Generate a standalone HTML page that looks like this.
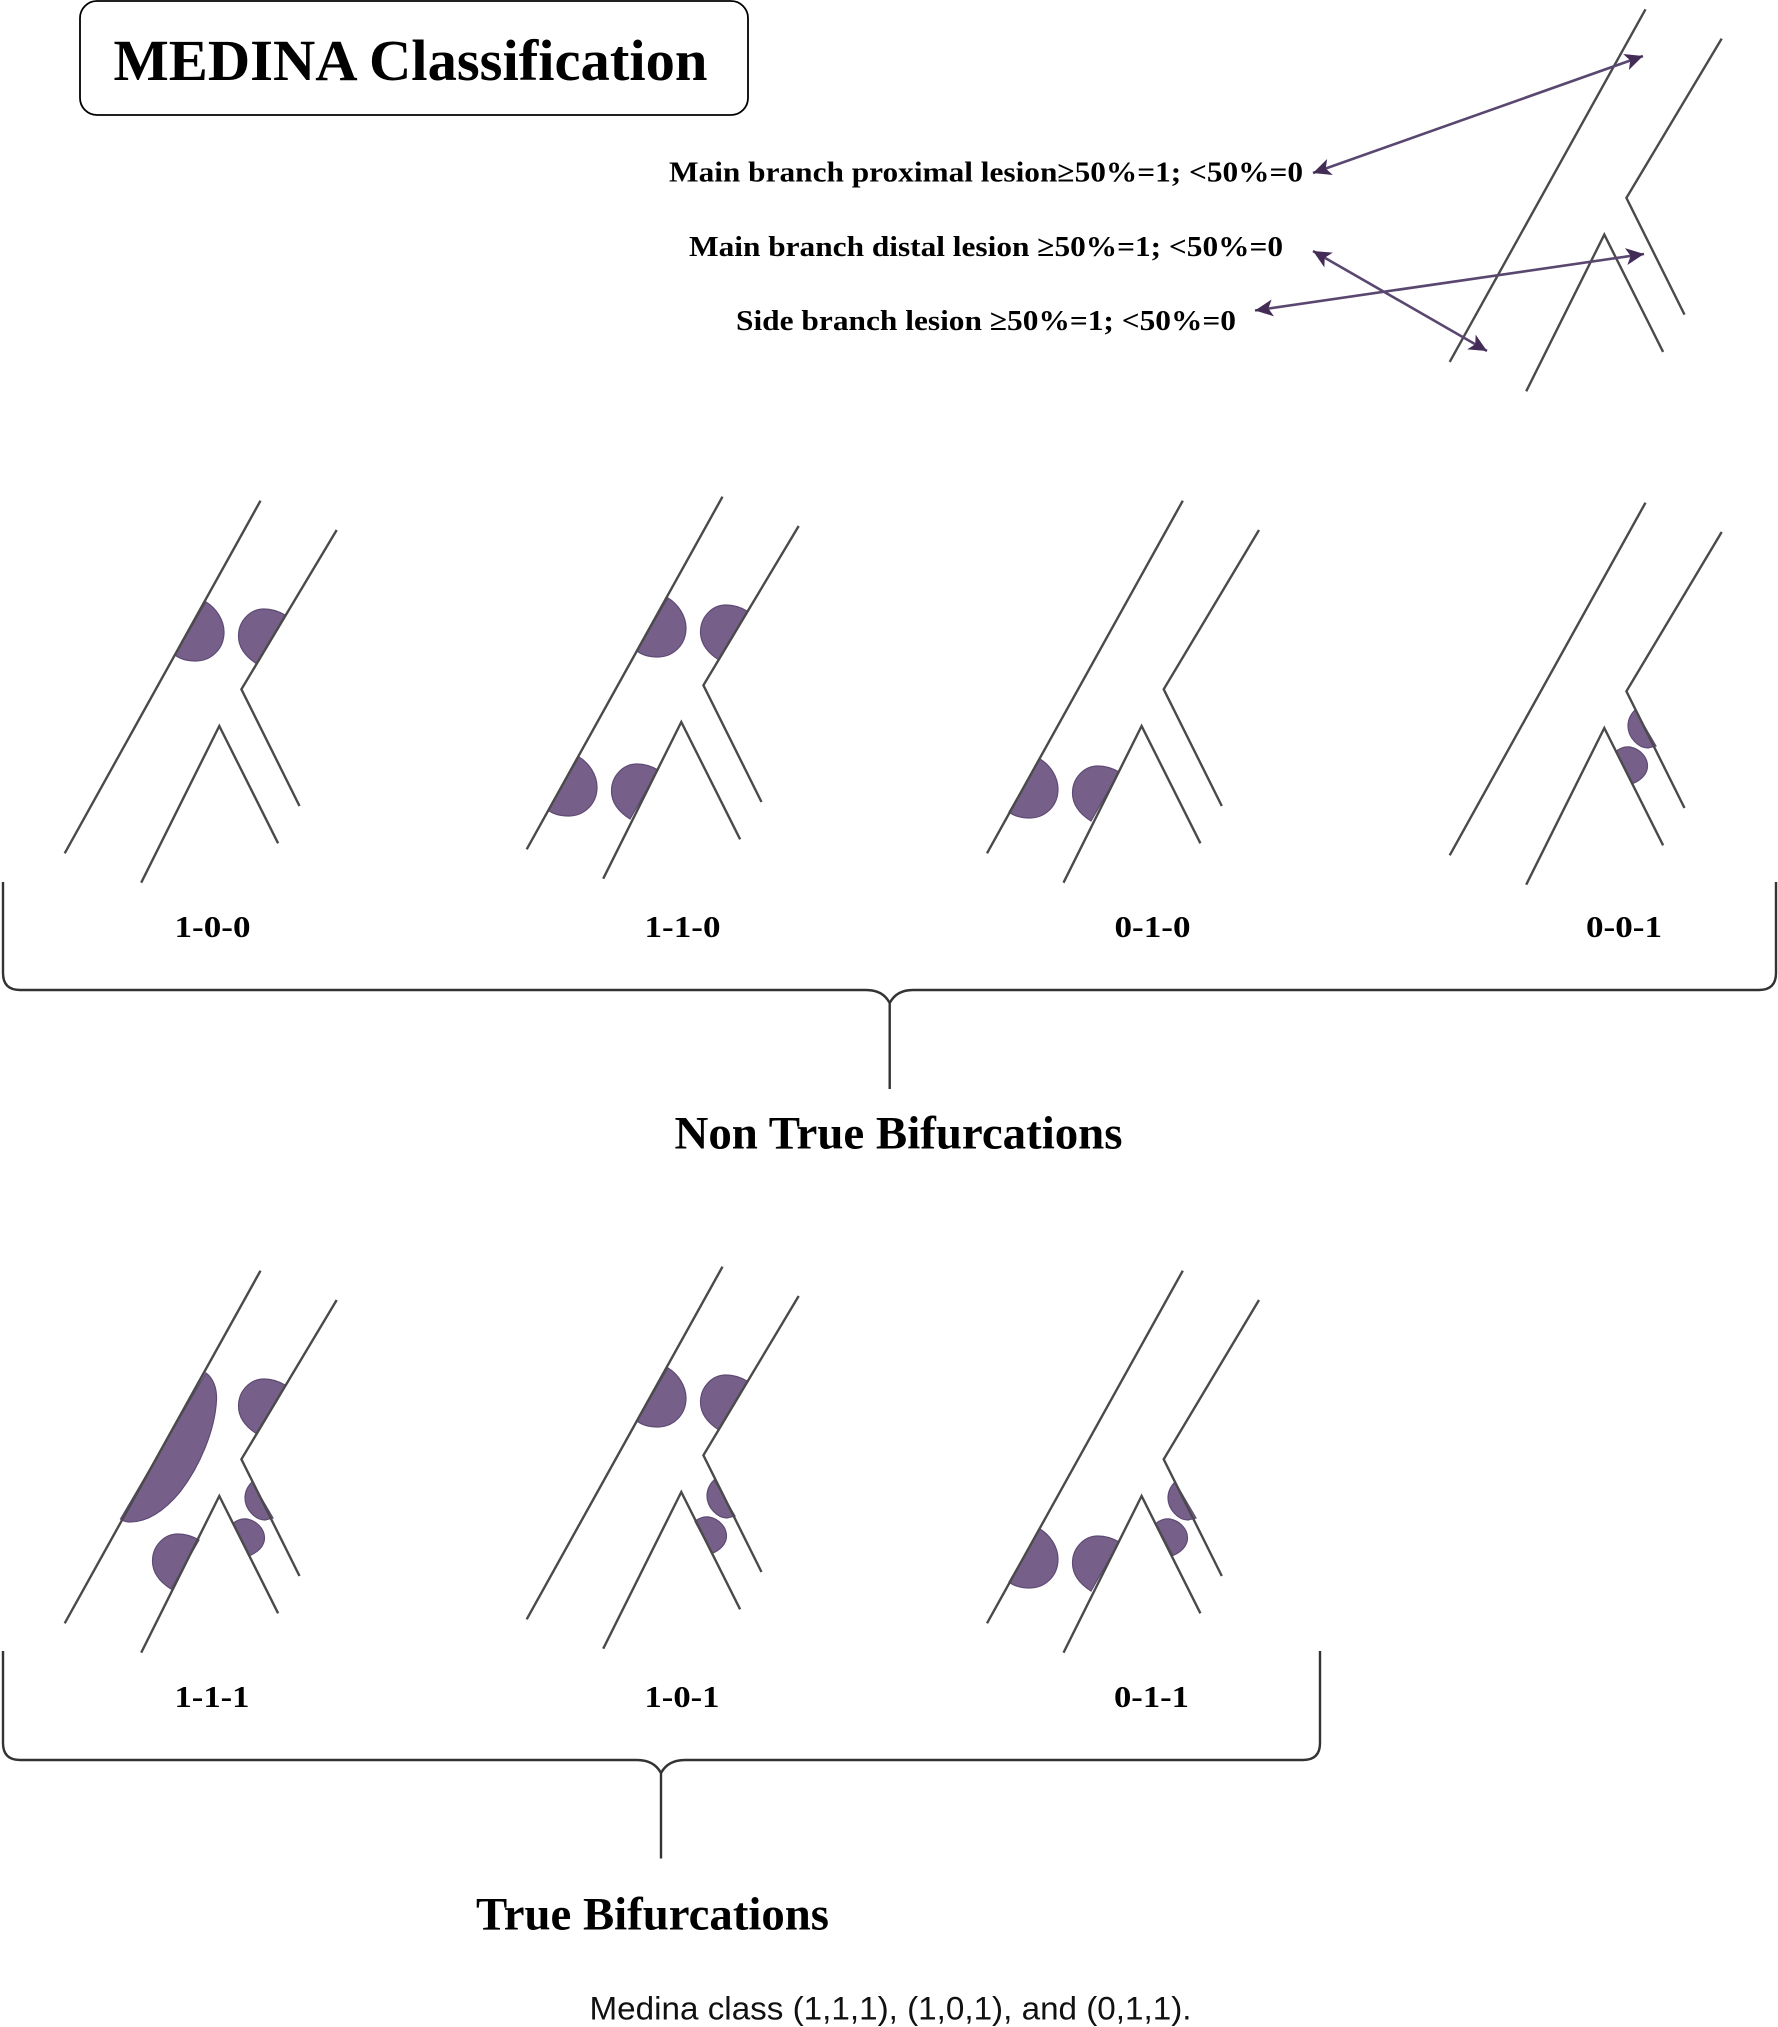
<!DOCTYPE html>
<html>
<head>
<meta charset="utf-8">
<style>
html,body{margin:0;padding:0;background:#fff;width:1778px;height:2027px;overflow:hidden}
svg{display:block}
text{font-family:"Liberation Serif",serif;font-weight:bold;fill:#000}
.v{fill:none;stroke:#4a4a4a;stroke-width:2.4;stroke-linecap:butt;stroke-linejoin:miter}
.b{fill:#76608a;stroke:#5e4a73;stroke-width:1.2}
</style>
</head>
<body>
<svg xmlns="http://www.w3.org/2000/svg" width="1778" height="2027" viewBox="0 0 1778 2027">
<defs>
<marker id="ah" viewBox="-20 -10 22 20" refX="0" refY="0" markerWidth="22" markerHeight="20" markerUnits="userSpaceOnUse" orient="auto-start-reverse">
<path d="M0,0 L-18,-8.5 L-13.5,0 L-18,8.5 Z" fill="#432d57"/>
</marker>
<g id="vessel">
<path class="v" d="M260.5,500.7 L64.7,853.3"/>
<path class="v" d="M336.7,530 L241.4,689.3 L299.5,806"/>
<path class="v" d="M141.2,882.7 L219.3,726 L278.1,843.3"/>
</g>
<path id="A" class="b" d="M206,602 C216,608 224,620 224,632 C224,650 210,661 196,661 C188,661 180,659 175,655 Z"/>
<path id="B" class="b" d="M285,615 C278,611 272,609 264,609 C250,609 238.5,621 238.5,636 C238.5,648 246,657 257,664 Z"/>
<path id="S1" class="b" d="M1635,710 C1630,715 1628,720 1628,726 C1628,737 1638,748 1648,748 L1656,746 Z"/>
<path id="S2" class="b" d="M1616,751.5 C1620,748 1625,746.5 1630,747 C1640,749 1647.5,757 1647.5,766 C1647.5,774 1641,780 1633,783.5 Z"/>
</defs>

<rect width="1778" height="2027" fill="#fff"/>

<!-- Title -->
<rect x="80" y="1" width="668" height="114" rx="17" ry="17" fill="#fff" stroke="#000" stroke-width="1.8"/>
<text x="113.5" y="80" font-size="58" textLength="594" lengthAdjust="spacingAndGlyphs">MEDINA Classification</text>

<!-- Legend -->
<use href="#vessel" transform="translate(1385,-491.4)"/>
<line x1="1313" y1="173" x2="1643" y2="56" stroke="#5a4770" stroke-width="2.6" marker-start="url(#ah)" marker-end="url(#ah)"/>
<line x1="1313" y1="251" x2="1487" y2="351" stroke="#5a4770" stroke-width="2.6" marker-start="url(#ah)" marker-end="url(#ah)"/>
<line x1="1255" y1="310.5" x2="1644" y2="254" stroke="#5a4770" stroke-width="2.6" marker-start="url(#ah)" marker-end="url(#ah)"/>
<text x="669" y="181.5" font-size="29" textLength="634" lengthAdjust="spacingAndGlyphs">Main branch proximal lesion≥50%=1; &lt;50%=0</text>
<text x="689" y="256" font-size="29" textLength="594" lengthAdjust="spacingAndGlyphs">Main branch distal lesion ≥50%=1; &lt;50%=0</text>
<text x="736" y="330" font-size="29" textLength="500" lengthAdjust="spacingAndGlyphs">Side branch lesion ≥50%=1; &lt;50%=0</text>

<!-- Row 1 -->
<use href="#A"/><use href="#B"/>
<use href="#vessel"/>

<g transform="translate(462,-4)"><use href="#A"/><use href="#B"/></g>
<use href="#A" transform="translate(373,155)"/><use href="#B" transform="translate(373,155)"/>
<use href="#vessel" transform="translate(462,-4)"/>

<use href="#A" transform="translate(834,157)"/><use href="#B" transform="translate(834,157)"/>
<use href="#vessel" transform="translate(922.3,0)"/>

<use href="#S1"/><use href="#S2"/>
<use href="#vessel" transform="translate(1385,2)"/>

<text x="174.5" y="937" font-size="31" textLength="76" lengthAdjust="spacingAndGlyphs">1-0-0</text>
<text x="644.5" y="937" font-size="31" textLength="76" lengthAdjust="spacingAndGlyphs">1-1-0</text>
<text x="1114.5" y="937" font-size="31" textLength="76" lengthAdjust="spacingAndGlyphs">0-1-0</text>
<text x="1586" y="937" font-size="31" textLength="76" lengthAdjust="spacingAndGlyphs">0-0-1</text>

<!-- Brace 1 -->
<path class="v" style="stroke:#333" d="M3,882 L3,973 Q3,990 20,990 L866,990 Q883,990 889.7,1003 Q896.5,990 913,990 L1759,990 Q1776,990 1776,973 L1776,882 M889.7,1003 L889.7,1089"/>
<text x="674.5" y="1148.3" font-size="47" textLength="448" lengthAdjust="spacingAndGlyphs">Non True Bifurcations</text>

<!-- Row 2 -->
<path class="b" d="M206,1373 C213,1378 217,1388 216.5,1400 C215,1430 200,1466 180,1492 C165,1510 148,1522 130,1522 C126,1522 123,1521 120.5,1519 Z"/>
<use href="#B" transform="translate(0,770)"/>
<use href="#B" transform="translate(-86,925)"/>
<use href="#S1" transform="translate(-1383,772)"/>
<use href="#S2" transform="translate(-1383,772)"/>
<use href="#vessel" transform="translate(0,770)"/>

<use href="#A" transform="translate(462,766)"/><use href="#B" transform="translate(462,766)"/>
<use href="#S1" transform="translate(-921,770)"/>
<use href="#S2" transform="translate(-921,770)"/>
<use href="#vessel" transform="translate(462,766)"/>

<use href="#A" transform="translate(834,927)"/><use href="#B" transform="translate(834,927)"/>
<use href="#S1" transform="translate(-460,772)"/>
<use href="#S2" transform="translate(-460,772)"/>
<use href="#vessel" transform="translate(922.3,770)"/>

<text x="174.5" y="1707" font-size="31" textLength="75" lengthAdjust="spacingAndGlyphs">1-1-1</text>
<text x="644.5" y="1707" font-size="31" textLength="75" lengthAdjust="spacingAndGlyphs">1-0-1</text>
<text x="1114" y="1707" font-size="31" textLength="75" lengthAdjust="spacingAndGlyphs">0-1-1</text>

<!-- Brace 2 -->
<path class="v" style="stroke:#333" d="M3,1651 L3,1743 Q3,1760 20,1760 L637,1760 Q654,1760 661,1773 Q668,1760 685,1760 L1303,1760 Q1320,1760 1320,1743 L1320,1651 M661,1773 L661,1858.5"/>
<text x="476" y="1929.3" font-size="47" textLength="353" lengthAdjust="spacingAndGlyphs">True Bifurcations</text>

<text x="589.5" y="2019.3" font-size="32" textLength="602" lengthAdjust="spacingAndGlyphs" style="font-family:'Liberation Sans',sans-serif;font-weight:normal;fill:#111">Medina class (1,1,1), (1,0,1), and (0,1,1).</text>
</svg>
</body>
</html>
